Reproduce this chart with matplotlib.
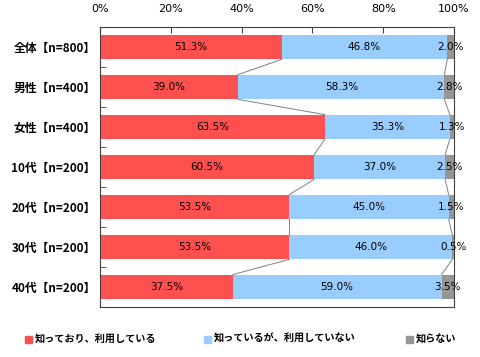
import matplotlib
matplotlib.use("Agg")
import matplotlib.pyplot as plt
from matplotlib.patches import Rectangle

plt.rcParams['font.family'] = ['Noto Sans CJK JP', 'DejaVu Sans']

categories = ["全体【n=800】", "男性【n=400】", "女性【n=400】", "10代【n=200】",
              "20代【n=200】", "30代【n=200】", "40代【n=200】"]
use_it = [51.3, 39.0, 63.5, 60.5, 53.5, 53.5, 37.5]
know_only = [46.8, 58.3, 35.3, 37.0, 45.0, 46.0, 59.0]
dont_know = [2.0, 2.8, 1.3, 2.5, 1.5, 0.5, 3.5]
series_names = ["知っており、利用している", "知っているが、利用していない", "知らない"]
colors = ["#ff5050", "#99ccff", "#969696"]

W, H = 481, 357
fig = plt.figure(figsize=(W / 100, H / 100), dpi=100)
ax = fig.add_axes([100 / W, 1 - 307 / H, 354 / W, 280 / H])

y = list(range(len(categories)))
h = 0.62
left = [0.0] * len(categories)
for vals, col in zip([use_it, know_only, dont_know], colors):
    ax.barh(y, vals, left=left, height=h, color=col, zorder=2)
    for i, v in enumerate(vals):
        ax.text(left[i] + v / 2, i, f"{v:.1f}%", ha="center", va="center",
                fontsize=7.5, family="DejaVu Sans", color="black", zorder=4)
    left = [l + v for l, v in zip(left, vals)]

# series lines between bars
cum1 = use_it
cum2 = [a + b for a, b in zip(use_it, know_only)]
for cum in (cum1, cum2):
    for i in range(len(categories) - 1):
        ax.plot([cum[i], cum[i + 1]], [i + h / 2, i + 1 - h / 2],
                color="#808080", lw=0.7, zorder=3)

ax.set_xlim(0, 100)
ax.set_ylim(len(categories) - 0.5, -0.5)
ax.xaxis.tick_top()
ax.set_xticks([0, 20, 40, 60, 80, 100])
ax.set_xticklabels([f"{t}%" for t in [0, 20, 40, 60, 80, 100]],
                   family="DejaVu Sans", fontsize=8)
ax.set_yticks(y)
ax.set_yticklabels(categories, fontsize=8.5, fontweight="bold")
ax.set_yticks([i + 0.5 for i in y[:-1]], minor=True)
ax.tick_params(axis="y", which="major", length=0, pad=3)
ax.tick_params(axis="y", which="minor", direction="in", length=4, color="#404040")
ax.tick_params(axis="x", direction="in", length=4, pad=9, color="#404040")
for s in ax.spines.values():
    s.set_color("#404040")
    s.set_linewidth(0.8)

# legend, laid out by hand like the original
leg_x = [25, 204, 406]
leg_y = 339
for x0, col, name in zip(leg_x, colors, series_names):
    fig.patches.append(Rectangle((x0 / W, 1 - (leg_y + 3.5) / H), 7 / W, 7 / H,
                                 transform=fig.transFigure, color=col))
    fig.text((x0 + 10) / W, 1 - leg_y / H, name, ha="left", va="center",
             fontsize=7.3, fontweight="bold")

fig.savefig("out.png", dpi=100)
